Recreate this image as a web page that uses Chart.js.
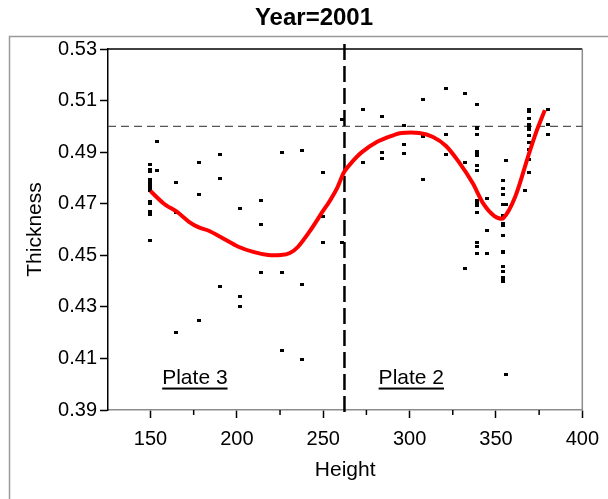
<!DOCTYPE html>
<html>
<head>
<meta charset="utf-8">
<title>Year=2001</title>
<script src="https://cdn.jsdelivr.net/npm/chart.js@4.4.1/dist/chart.umd.min.js"></script>
<style>
  html, body { margin: 0; padding: 0; background: #fff; }
  canvas { display: block; }
</style>
</head>
<body>
<canvas id="graficoEspessura" width="608" height="499"></canvas>
<script>
//DADOS
// alturas medidas e as espessuras lidas em cada uma
const alturas = [150, 154, 165, 178, 190, 202, 214, 226, 238, 250, 261, 273, 284, 297, 308, 321, 332, 339, 345, 354, 356, 367, 369, 380];
const espessuras = [
  [0.4852, 0.4833, 0.4825, 0.4792, 0.4782, 0.4772, 0.4763, 0.4753, 0.4710, 0.4699, 0.4668, 0.4660, 0.4559],
  [0.4943, 0.4827],
  [0.4781, 0.4665, 0.4202],
  [0.4859, 0.4735, 0.4249],
  [0.4889, 0.4797, 0.4380],
  [0.4681, 0.4341, 0.4302],
  [0.4712, 0.4619, 0.4434],
  [0.4898, 0.4434, 0.4132],
  [0.4905, 0.4387, 0.4094],
  [0.4820, 0.4649, 0.4550],
  [0.5028, 0.4550],
  [0.5067, 0.4859],
  [0.5037, 0.4898, 0.4874],
  [0.5005, 0.4928, 0.4896],
  [0.5106, 0.4961, 0.4792],
  [0.5145, 0.4968, 0.4890],
  [0.5129, 0.4859, 0.4449],
  [0.5083, 0.4997, 0.4990, 0.4968, 0.4904, 0.4895, 0.4886, 0.4850, 0.4828, 0.4714, 0.4705, 0.4695, 0.4665, 0.4551, 0.4533, 0.4505],
  [0.4720, 0.4596, 0.4505],
  [0.4790, 0.4758, 0.4735, 0.4697, 0.4655, 0.4623, 0.4616, 0.4575, 0.4516, 0.4510, 0.4458, 0.4439, 0.4415, 0.4407, 0.4400],
  [0.4867, 0.4697, 0.4039],
  [0.4750],
  [0.5066, 0.5059, 0.5031, 0.5008, 0.4999, 0.4986, 0.4964, 0.4937, 0.4911, 0.4873, 0.4820],
  [0.5066, 0.5007, 0.4968]
];

// curva suavizada (vermelha)
const curvaAltura = [150, 158, 165.4, 172.3, 178, 183.7, 190.6, 200.9, 209.5, 218.1, 225.5, 230.7, 235.3, 242.7, 249.5, 254.1, 258.1, 262.1, 266.7, 272.4, 281, 289.6, 295.3, 305.6, 313.6, 321.1, 328.5, 336.5, 342.8, 349.1, 354.2, 361.1, 368.5, 373.1, 378.3];
const curvaEspessura = [0.4749, 0.4699, 0.4668, 0.4630, 0.4608, 0.4595, 0.4571, 0.4533, 0.4513, 0.4501, 0.4501, 0.4509, 0.4532, 0.4598, 0.4668, 0.4714, 0.4761, 0.4823, 0.4862, 0.4900, 0.4939, 0.4963, 0.4974, 0.4974, 0.4959, 0.4924, 0.4862, 0.4780, 0.4699, 0.4652, 0.4644, 0.4726, 0.4881, 0.4974, 0.5063];

// linhas de referência
const espessuraAlvo = 0.50;
const divisaoPlacas = 262.3;
const nomesPlacas = ["Plate 3", "Plate 2"];

const FONTE = '"Liberation Sans", Arial, sans-serif';

//MARCADOR DOS PONTOS (retângulo 4x3)
const marcador = document.createElement("canvas");
marcador.width = 4;
marcador.height = 3;
marcador.getContext("2d").fillRect(0, 0, 4, 3);

const pontos = [];
alturas.forEach((h, i) => {
  espessuras[i].forEach((e) => pontos.push({ x: h, y: e }));
});
const curva = curvaAltura.map((h, i) => ({ x: h, y: curvaEspessura[i] }));

//DESENHOS EXTRAS (moldura, linhas tracejadas, rótulos das placas)
const extras = {
  id: "extras",
  beforeDraw(chart) {
    const ctx = chart.ctx;
    ctx.save();
    ctx.strokeStyle = "#9a9a9a";
    ctx.lineWidth = 1.5;
    ctx.beginPath();
    ctx.moveTo(9.5, 499);
    ctx.lineTo(9.5, 36.5);
    ctx.lineTo(608, 36.5);
    ctx.stroke();
    ctx.restore();
  },
  beforeDatasetsDraw(chart) {
    const { ctx, chartArea: a, scales } = chart;
    ctx.save();
    // limite superior e direito da área
    ctx.lineWidth = 1.5;
    ctx.strokeStyle = "#000";
    ctx.beginPath();
    ctx.moveTo(a.left, a.top);
    ctx.lineTo(a.right, a.top);
    ctx.stroke();
    ctx.strokeStyle = "#8c8c8c";
    ctx.beginPath();
    ctx.moveTo(a.right, a.top);
    ctx.lineTo(a.right, a.bottom);
    ctx.stroke();

    // ticks menores do eixo x
    ctx.strokeStyle = "#000";
    for (let v = 175; v < 400; v += 50) {
      const px = scales.x.getPixelForValue(v);
      ctx.beginPath();
      ctx.moveTo(px, a.bottom);
      ctx.lineTo(px, a.bottom + 5);
      ctx.stroke();
    }

    // espessura alvo
    const yAlvo = scales.y.getPixelForValue(espessuraAlvo);
    ctx.strokeStyle = "#555";
    ctx.lineWidth = 1.2;
    ctx.setLineDash([8, 5]);
    ctx.beginPath();
    ctx.moveTo(a.left, yAlvo);
    ctx.lineTo(a.right, yAlvo);
    ctx.stroke();

    // divisão entre as placas
    const xDiv = scales.x.getPixelForValue(divisaoPlacas);
    ctx.strokeStyle = "#000";
    ctx.lineWidth = 2.5;
    ctx.setLineDash([16, 6]);
    ctx.beginPath();
    ctx.moveTo(xDiv, a.top - 5);
    ctx.lineTo(xDiv, a.bottom + 6);
    ctx.stroke();
    ctx.restore();
  },
  afterDraw(chart) {
    const { ctx, scales } = chart;
    ctx.save();
    ctx.fillStyle = "#000";
    ctx.textAlign = "center";
    ctx.textBaseline = "middle";
    ctx.font = "bold 24px " + FONTE;
    ctx.fillText("Year=2001", 314, 18);

    // rótulos sublinhados das placas
    ctx.font = "21px " + FONTE;
    const posicoes = [175.7, 301];
    const yTexto = scales.y.getPixelForValue(0.4022);
    nomesPlacas.forEach((nome, i) => {
      const cx = scales.x.getPixelForValue(posicoes[i]);
      ctx.fillText(nome, cx, yTexto);
      const w = ctx.measureText(nome).width;
      ctx.fillRect(cx - w / 2, yTexto + 9, w, 2);
    });
    ctx.restore();
  }
};

//GRÁFICO
new Chart(document.getElementById("graficoEspessura"), {
  type: "scatter",
  data: {
    datasets: [
      {
        data: curva,
        showLine: true,
        borderColor: "#ff0000",
        borderWidth: 4,
        pointRadius: 0,
        tension: 0.3,
        order: 0
      },
      {
        data: pontos,
        pointStyle: marcador,
        pointRadius: 2,
        order: 1
      }
    ]
  },
  options: {
    responsive: false,
    animation: false,
    devicePixelRatio: 1,
    layout: { padding: { top: 49, left: 20, right: 20, bottom: 0 } },
    plugins: {
      legend: { display: false },
      tooltip: { enabled: false },
      title: { display: false }
    },
    scales: {
      x: {
        type: "linear",
        min: 125.4,
        max: 400,
        afterFit: (s) => { s.height = 89; },
        ticks: {
          stepSize: 50,
          includeBounds: false,
          color: "#000",
          padding: 9,
          font: { family: FONTE, size: 20 }
        },
        grid: { drawOnChartArea: false, tickLength: 8, tickColor: "#000", tickWidth: 1.5 },
        border: { color: "#8c8c8c", width: 1.5 },
        title: {
          display: true,
          text: "Height",
          color: "#000",
          font: { family: FONTE, size: 21 },
          padding: { top: 0, bottom: 16 }
        }
      },
      y: {
        min: 0.39,
        max: 0.53,
        afterFit: (s) => { s.width = 88; },
        ticks: {
          stepSize: 0.01,
          color: "#000",
          padding: 3,
          font: { family: FONTE, size: 20 },
          callback: (v, i) => (i % 2 === 0 ? v.toFixed(2) : "")
        },
        grid: { drawOnChartArea: false, tickLength: 8, tickColor: "#000", tickWidth: 1.5 },
        border: { color: "#000", width: 1.5 },
        title: {
          display: true,
          text: "Thickness",
          color: "#000",
          font: { family: FONTE, size: 21 },
          padding: { top: 3, bottom: 0 }
        }
      }
    }
  },
  plugins: [extras]
});
</script>
</body>
</html>
